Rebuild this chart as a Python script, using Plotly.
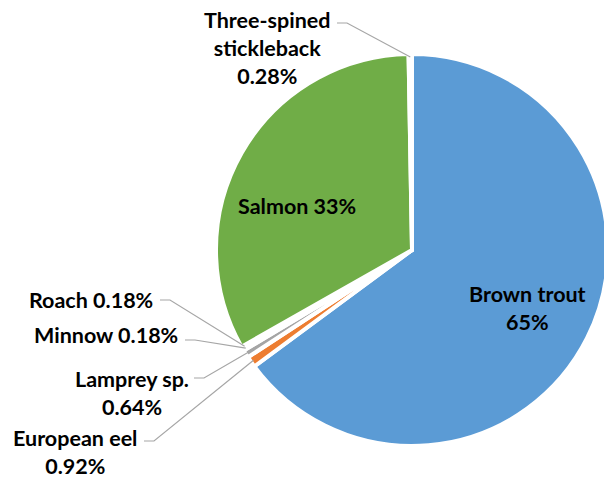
import math
import plotly.graph_objects as go

# ---- data ----
species = ["Brown trout", "European eel", "Lamprey sp.", "Minnow", "Roach",
           "Salmon", "Three-spined stickleback"]
shares = [65, 0.92, 0.64, 0.18, 0.18, 33, 0.28]
colors = ["#5B9BD5", "#ED7D31", "#A5A5A5", "#FFC000", "#4472C4", "#70AD47", "#255E91"]

# ---- layout geometry (pixels) ----
W, H = 612, 481          # figure slightly wider than the window so the pie is clipped at the right like the reference
CX, CY, R = 412, 250, 196
FONT = dict(family="Lato, 'Open Sans', sans-serif", size=21.5, color="#000000", weight="bold")

fig = go.Figure(go.Pie(
    labels=species, values=shares, sort=False, direction="clockwise", rotation=0,
    marker=dict(colors=colors, line=dict(color="white", width=4)),
    textinfo="none",
    hoverinfo="label+percent", showlegend=False,
    domain=dict(x=[(CX - R) / W, (CX + R) / W], y=[(H - CY - R) / H, (H - CY + R) / H]),
))

total = sum(shares)
cum = 0
mid_angle = {}
for s, v in zip(species, shares):
    mid_angle[s] = (cum + v / 2) / total * 360
    cum += v

def px2paper(x, y):
    return x / W, 1 - y / H

def pct(v):
    p = v / total * 100
    return f"{p:.0f}%" if p >= 10 else f"{v:.2f}%"

shapes = []
annotations = []

# inside labels (positions in px)
inside = [
    ("Brown trout", "Brown trout<br>" + pct(shares[0]), 527, 308),
    ("Salmon", "Salmon " + pct(shares[5]), 297, 206),
]
for sp, txt, x, y in inside:
    xp, yp = px2paper(x, y)
    annotations.append(dict(text=txt, x=xp, y=yp, xref="paper", yref="paper",
                            xanchor="center", yanchor="middle", align="center",
                            showarrow=False, font=FONT))

# outside labels with leader lines
outside = [
    # species, label, annotation x, y (px), xanchor, leader start x, y (px)
    ("Three-spined stickleback", "Three-spined<br>stickleback<br>", 267, 5, "center", 337, 23),
    ("Roach", "Roach ", 155, 285, "right", 160, 300),
    ("Minnow", "Minnow ", 180, 320, "right", 185, 340),
    ("Lamprey sp.", "Lamprey sp.<br>", 191, 364, "right", 194, 378),
    ("European eel", "European eel<br>", 139, 423, "right", 144, 441),
]
for sp, lab, ax, ay, xa, lx, ly in outside:
    v = shares[species.index(sp)]
    txt = lab + f"{v:.2f}%"
    th = math.radians(mid_angle[sp])
    ex = CX + 0.985 * R * math.sin(th)
    ey = CY - 0.985 * R * math.cos(th)
    p0 = px2paper(lx, ly)
    p1 = px2paper(lx + 10, ly)
    p2 = px2paper(ex, ey)
    shapes.append(dict(type="path", xref="paper", yref="paper",
                       path=f"M {p0[0]} {p0[1]} L {p1[0]} {p1[1]} L {p2[0]} {p2[1]}",
                       line=dict(color="#A6A6A6", width=1.2)))
    axp, ayp = px2paper(ax, ay)
    annotations.append(dict(text=txt, x=axp, y=ayp, xref="paper", yref="paper",
                            xanchor=xa, yanchor="top", align="center", showarrow=False,
                            font=FONT))

fig.update_layout(
    width=W, height=H, margin=dict(l=0, r=0, t=0, b=0),
    paper_bgcolor="white", plot_bgcolor="white",
    shapes=shapes, annotations=annotations,
)

fig.write_html("out.html", config={"displayModeBar": False},
               post_script="document.body.style.margin='0';document.body.style.overflow='hidden';")
